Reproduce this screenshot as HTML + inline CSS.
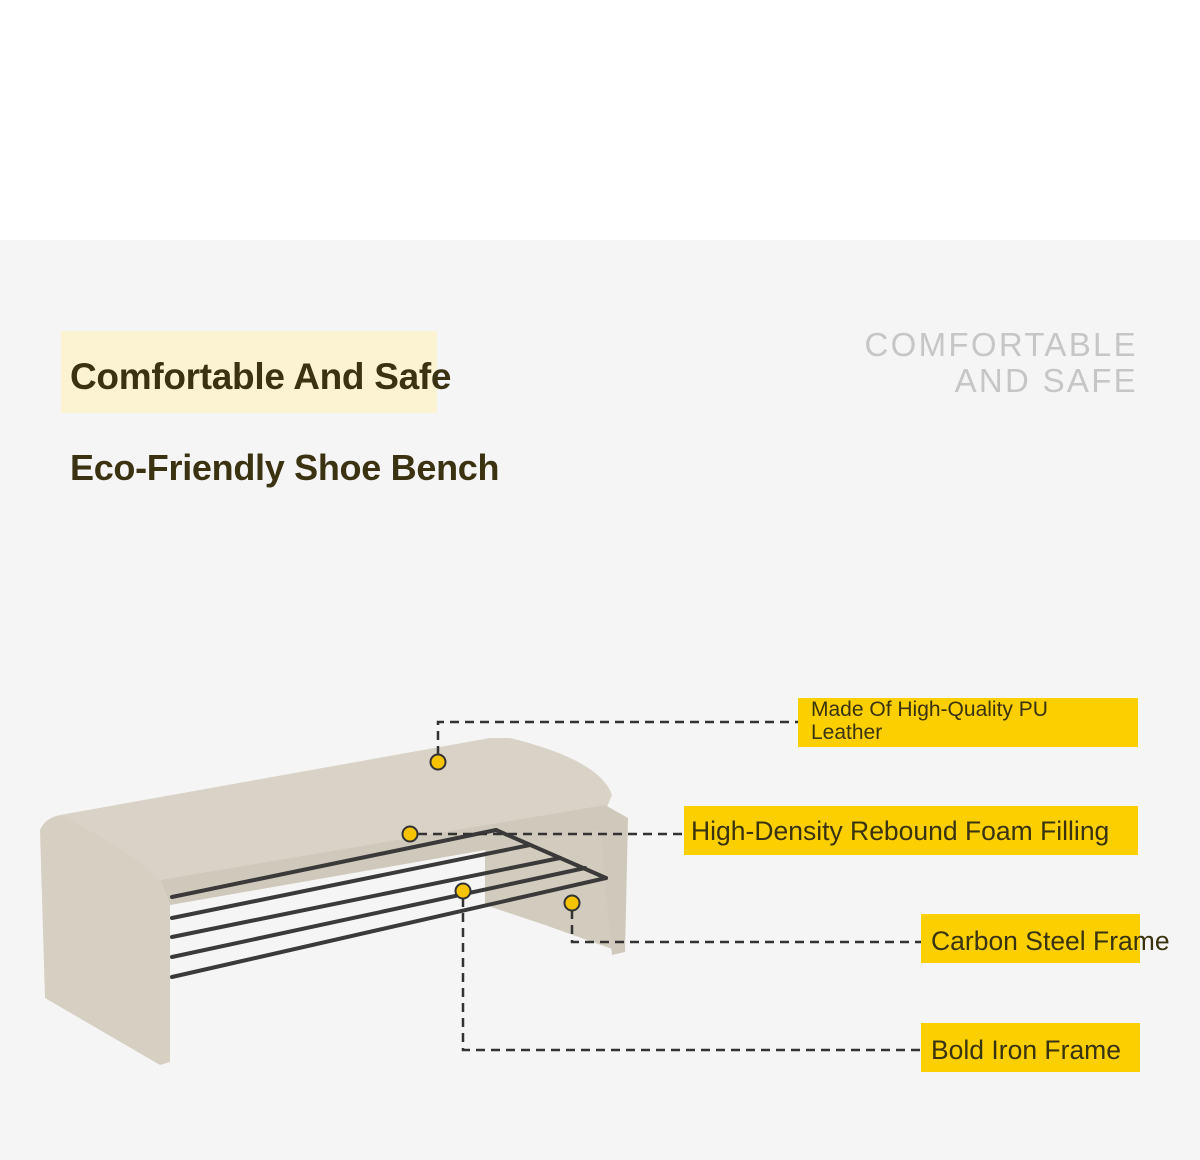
<!DOCTYPE html>
<html><head><meta charset="utf-8"><style>
body{margin:0;width:1200px;height:1160px;background:#f5f5f5;font-family:"Liberation Sans",sans-serif;position:relative;overflow:hidden}
.top{position:absolute;left:0;top:0;width:1200px;height:240px;background:#fff}
.t1{position:absolute;left:61px;top:331px;width:376px;height:82px;background:#fbf3d2}
.h{position:absolute;font-weight:bold;color:#3b3212;white-space:nowrap}
.r{position:absolute;right:62px;text-align:right;color:#c6c6c6;font-size:33px;line-height:36px;letter-spacing:2.3px}
.lb{position:absolute;background:#fcd000;color:#3a3310;white-space:nowrap}
</style></head><body>
<div class="top"></div>
<div class="t1"></div>
<div class="h" style="left:70px;top:356px;font-size:37px;letter-spacing:-0.3px">Comfortable And Safe</div>
<div class="h" style="left:70px;top:447px;font-size:36px;letter-spacing:-0.3px">Eco-Friendly Shoe Bench</div>
<div class="r" style="top:327px">COMFORTABLE<br>AND SAFE</div>
<svg style="position:absolute;left:0;top:0" width="1200" height="1160">
<g stroke="none">
<polygon points="485,815 600,812 615,950 545,925 485,905" fill="#d2ccbe"/>
<path d="M60,815 L490,738 L510,738 Q600,760 612,795 L605,812 L160,880 Q80,830 60,815Z" fill="#d8d3c6"/>
<polygon points="160,880 605,805 628,818 625,952 612,955 600,830 170,905" fill="#cfc9bb"/>
<path d="M40,830 Q45,818 60,815 Q130,850 160,880 L170,905 L170,1062 L160,1065 L45,998Z" fill="#d6d0c3"/>
</g>
<g stroke="#3a3a3a" stroke-width="4" stroke-linecap="round">
<line x1="172" y1="897" x2="496" y2="830"/>
<line x1="172" y1="918" x2="530" y2="845"/>
<line x1="172" y1="937" x2="560" y2="858"/>
<line x1="172" y1="957" x2="585" y2="868"/>
<line x1="172" y1="977" x2="606" y2="878"/>
<line x1="496" y1="830" x2="606" y2="878"/>
</g>
<g stroke="#333" stroke-width="2.5" stroke-dasharray="9,6" fill="none">
<polyline points="438,755 438,722 798,722"/>
<polyline points="418,834 684,834"/>
<polyline points="463,898 463,1050 921,1050"/>
<polyline points="572,910 572,942 921,942"/>
</g>
<g fill="#f6c400" stroke="#333" stroke-width="2">
<circle cx="438" cy="762" r="7.5"/><circle cx="410" cy="834" r="7.5"/>
<circle cx="463" cy="891" r="7.5"/><circle cx="572" cy="903" r="7.5"/>
</g>
</svg>
<div class="lb" style="left:798px;top:698px;width:327px;height:49px;padding-left:13px;font-size:21px;line-height:23px">Made Of High-Quality PU<br>Leather</div>
<div class="lb" style="left:684px;top:806px;width:447px;height:49px;padding-left:7px;font-size:26.5px;line-height:51px">High-Density Rebound Foam Filling</div>
<div class="lb" style="left:921px;top:914px;width:209px;height:49px;padding-left:10px;font-size:26.5px;line-height:55px;overflow:visible">Carbon Steel Frame</div>
<div class="lb" style="left:921px;top:1023px;width:209px;height:49px;padding-left:10px;font-size:26.5px;line-height:55px">Bold Iron Frame</div>
</body></html>
